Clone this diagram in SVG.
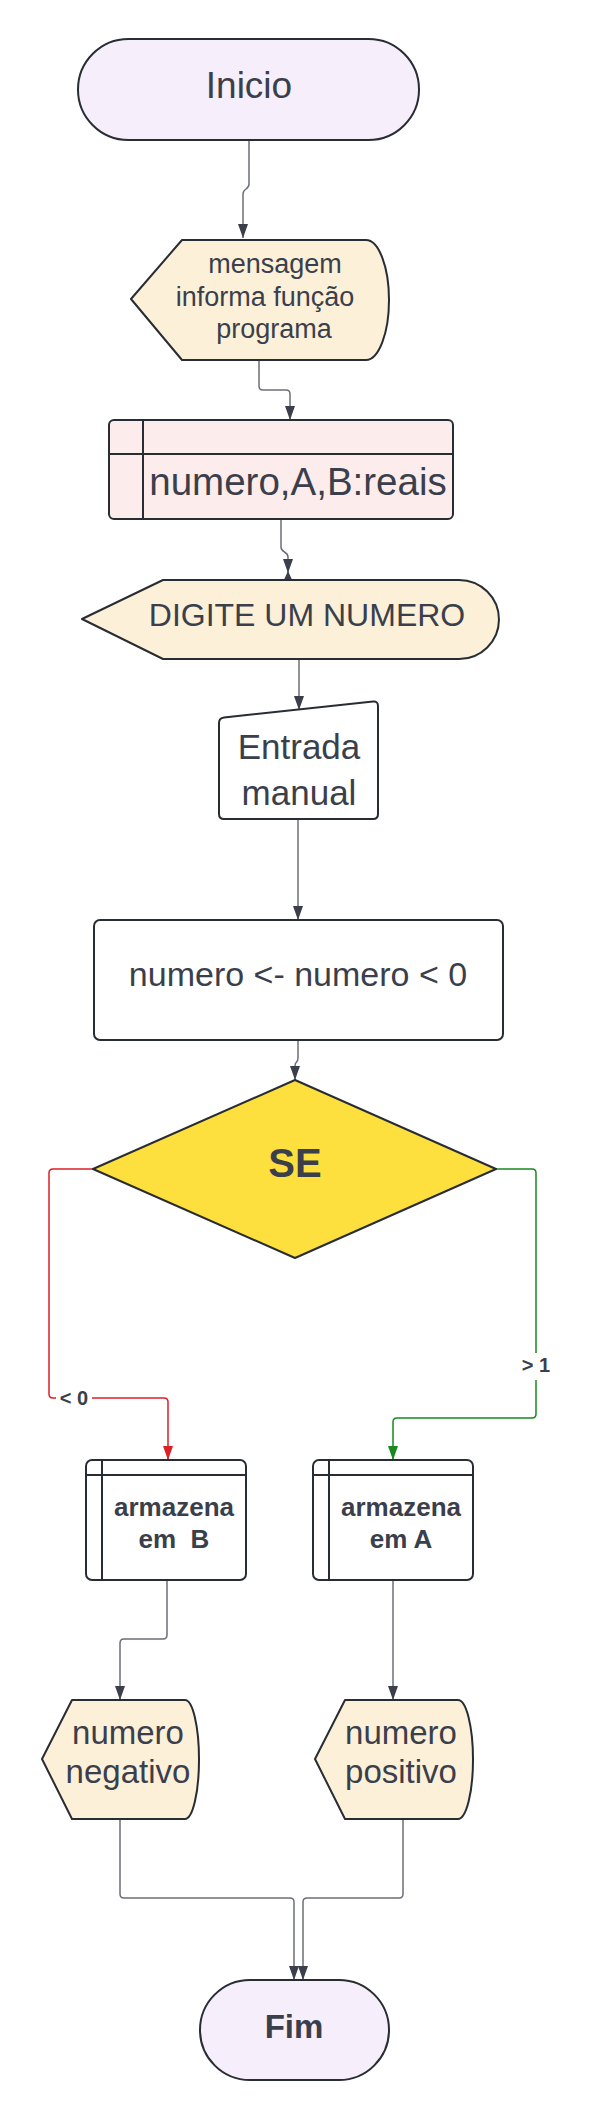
<svg xmlns="http://www.w3.org/2000/svg" width="592" height="2120" viewBox="0 0 592 2120">
<style>
.sh{stroke:#282c33;stroke-width:2;stroke-linejoin:round}
.t{font-family:"Liberation Sans",Arial,sans-serif;fill:#3a3f4b;text-anchor:middle;white-space:pre}
.b{font-weight:bold}
.c{fill:none;stroke:#6b6f76;stroke-width:1.5}
.red{fill:none;stroke:#dd1f26;stroke-width:1.5}
.grn{fill:none;stroke:#16891f;stroke-width:1.5}
.term{fill:#f7eefb}
.disp{fill:#fdf0d9}
.stor{fill:#fcecec}
.wht{fill:#ffffff}
</style>
<defs>
<marker id="ar" viewBox="0 0 14 10" refX="14" refY="5" markerWidth="14" markerHeight="10" markerUnits="userSpaceOnUse" orient="auto"><path d="M0,0 L14,5 L0,10 Z" fill="#3a3f4b"/></marker>
<marker id="arR" viewBox="0 0 14 10" refX="14" refY="5" markerWidth="14" markerHeight="10" markerUnits="userSpaceOnUse" orient="auto"><path d="M0,0 L14,5 L0,10 Z" fill="#dd1f26"/></marker>
<marker id="arG" viewBox="0 0 14 10" refX="14" refY="5" markerWidth="14" markerHeight="10" markerUnits="userSpaceOnUse" orient="auto"><path d="M0,0 L14,5 L0,10 Z" fill="#16891f"/></marker>
</defs>

<g id="connectors">
<path class="c" d="M249,140 V184 C249,190 243,188 243,194 V238" marker-end="url(#ar)"/>
<path class="c" d="M259,360 V386 Q259,390 263,390 H286 Q290,390 290,394 V420" marker-end="url(#ar)"/>
<path class="c" d="M281,519 V547 C281,553 288,551 288,557 V573" marker-end="url(#ar)"/>
<path d="M288,571 L282,584 L294,584 Z" fill="#3a3f4b"/>
<path class="c" d="M299,659 V710" marker-end="url(#ar)"/>
<path class="c" d="M298,819 V920" marker-end="url(#ar)"/>
<path class="c" d="M298,1040 V1058 C298,1063 295,1061 295,1066 V1080" marker-end="url(#ar)"/>
<path class="red" d="M93,1169 H53 Q49,1169 49,1173 V1394 Q49,1398 53,1398 H164 Q168,1398 168,1402 V1460" marker-end="url(#arR)"/>
<path class="grn" d="M496,1169 H532 Q536,1169 536,1173 V1414 Q536,1418 532,1418 H397 Q393,1418 393,1422 V1460" marker-end="url(#arG)"/>
<path class="c" d="M167,1580 V1635 Q167,1639 163,1639 H124 Q120,1639 120,1643 V1700" marker-end="url(#ar)"/>
<path class="c" d="M393,1580 V1700" marker-end="url(#ar)"/>
<path class="c" d="M120,1819 V1894 Q120,1898 124,1898 H290 Q294,1898 294,1902 V1980" marker-end="url(#ar)"/>
<path class="c" d="M403,1819 V1894 Q403,1898 399,1898 H307 Q303,1898 303,1902 V1980" marker-end="url(#ar)"/>
<rect x="56" y="1386" width="36" height="24" fill="#ffffff"/>
<text class="t b" x="74" y="1405" font-size="20">&lt; 0</text>
<rect x="519" y="1353" width="34" height="27" fill="#ffffff"/>
<text class="t b" x="536" y="1372" font-size="20">&gt; 1</text>
</g>

<g id="inicio">
<rect class="sh term" x="78" y="39" width="341" height="101" rx="50.5"/>
<text class="t" x="249" y="98" font-size="37">Inicio</text>
</g>

<g id="mensagem">
<path class="sh disp" d="M131,299 L182,240 L366,240 A23,60 0 0 1 366,360 L182,360 Z"/>
<text class="t" font-size="27"><tspan x="275" y="273">mensagem</tspan><tspan x="265" y="306">informa função</tspan><tspan x="274" y="338">programa</tspan></text>
</g>

<g id="variaveis">
<rect class="sh stor" x="109" y="420" width="344" height="99" rx="5"/>
<path class="sh" d="M143,420 V519 M109,454 H453" fill="none"/>
<text class="t" x="298" y="495" font-size="38.5">numero,A,B:reais</text>
</g>

<g id="digite">
<path class="sh disp" d="M82,619 L163,580 L459,580 A40,39.5 0 0 1 459,659 L163,659 Z"/>
<text class="t" x="307" y="626" font-size="32">DIGITE UM NUMERO</text>
</g>

<g id="entrada">
<path class="sh wht" d="M219,723 Q219,718 224,717.5 L373,701.5 Q378,701 378,706 L378,814 Q378,819 373,819 L224,819 Q219,819 219,814 Z"/>
<text class="t" font-size="35"><tspan x="299" y="759">Entrada</tspan><tspan x="299" y="805">manual</tspan></text>
</g>

<g id="processo">
<rect class="sh wht" x="94" y="920" width="409" height="120" rx="6"/>
<text class="t" x="298" y="986" font-size="34">numero &lt;- numero &lt; 0</text>
</g>

<g id="se">
<path class="sh" d="M295,1080 L496,1169 L295,1258 L93,1169 Z" fill="#fde03d"/>
<text class="t b" x="295" y="1177" font-size="40">SE</text>
</g>

<g id="armazenaB">
<rect class="sh wht" x="86" y="1460" width="160" height="120" rx="6"/>
<path class="sh" d="M102,1460 V1580 M86,1475 H246" fill="none"/>
<text class="t b" font-size="26"><tspan x="174" y="1516">armazena</tspan><tspan x="174" y="1548">em  B</tspan></text>
</g>

<g id="armazenaA">
<rect class="sh wht" x="313" y="1460" width="160" height="120" rx="6"/>
<path class="sh" d="M329,1460 V1580 M313,1475 H473" fill="none"/>
<text class="t b" font-size="26"><tspan x="401" y="1516">armazena</tspan><tspan x="401" y="1548">em A</tspan></text>
</g>

<g id="negativo">
<path class="sh disp" d="M42,1759 L72,1700 L185,1700 A14,59.5 0 0 1 185,1819 L72,1819 Z"/>
<text class="t" font-size="33"><tspan x="128" y="1744">numero</tspan><tspan x="128" y="1783">negativo</tspan></text>
</g>

<g id="positivo">
<path class="sh disp" d="M315,1759 L345,1700 L458,1700 A15,59.5 0 0 1 458,1819 L345,1819 Z"/>
<text class="t" font-size="33"><tspan x="401" y="1744">numero</tspan><tspan x="401" y="1783">positivo</tspan></text>
</g>

<g id="fim">
<rect class="sh term" x="200" y="1980" width="189" height="100" rx="50"/>
<text class="t b" x="294" y="2038" font-size="33">Fim</text>
</g>
</svg>
